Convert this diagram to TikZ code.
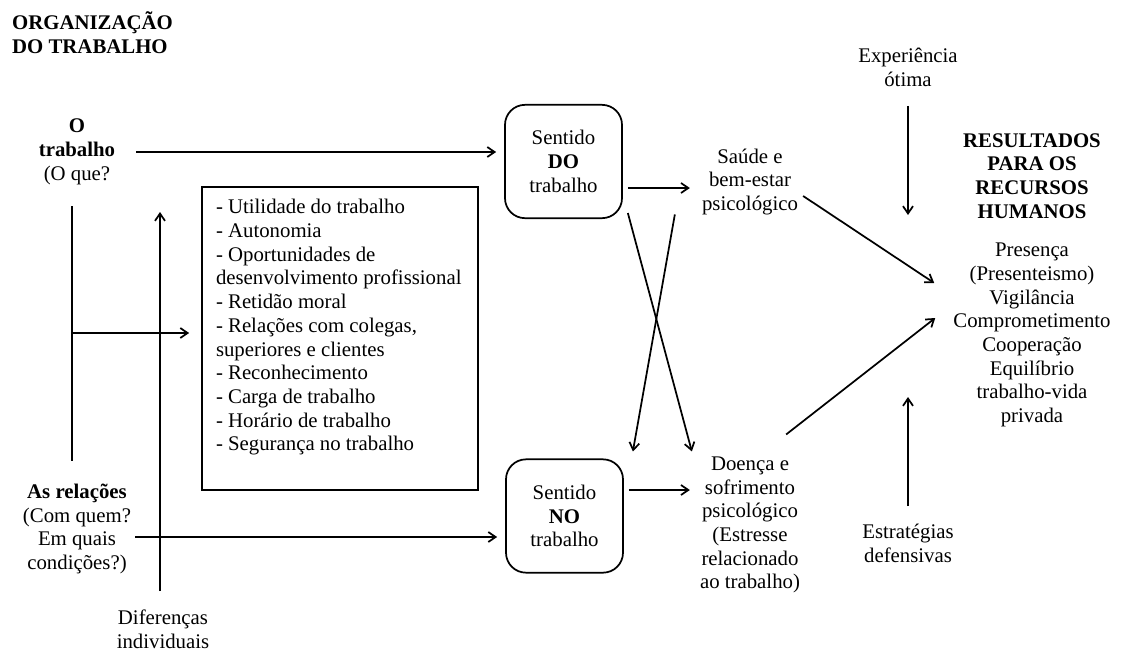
\documentclass[tikz,border=0pt]{standalone}
\usepackage{fontspec}
\setmainfont{Liberation Serif}
\usetikzlibrary{positioning, arrows.meta}

\begin{document}
\begin{tikzpicture}[->, >={Straight Barb[length=5.5pt,width=7.5pt]}, x=0.75pt, y=-0.75pt, line width=1.3pt, font=\fontsize{15.6}{17.8}\selectfont,
	rotulo/.style={align=center, inner sep=1pt},
	titulo/.style={rotulo, font=\fontsize{15.6}{17.8}\selectfont\bfseries},
	sentido/.style={draw, rounded corners=15pt, align=center, minimum width=87.75pt, minimum height=85pt},
	caixa/.style={draw, minimum width=207pt, minimum height=227pt}]
	\useasboundingbox (0,0) rectangle (1121,651);

	\node[titulo, align=left, anchor=west] (org) at (10,33) {ORGANIZAÇÃO\\DO TRABALHO};
	\node[rotulo] (trab) at (77,152) {\textbf{O}\\\textbf{trabalho}\\(O que?};
	\node[rotulo] (rel) at (77,529) {\textbf{As relações}\\(Com quem?\\Em quais\\condições?)};
	\node[rotulo] (dif) at (163,629) {Diferenças\\individuais};
	\node[caixa] (lista) at (340,338.5) {};
	\node[rotulo, align=left, inner sep=0pt] (itens) [below right=9pt and 10.5pt of lista.north west] {- Utilidade do trabalho\\- Autonomia\\- Oportunidades de\\desenvolvimento profissional\\- Retidão moral\\- Relações com colegas,\\superiores e clientes\\- Reconhecimento\\- Carga de trabalho\\- Horário de trabalho\\- Segurança no trabalho};
	\node[sentido] (sdo) at (563.5,161.5) {Sentido\\\textbf{DO}\\trabalho};
	\node[sentido] (sno) at (564.5,516) {Sentido\\\textbf{NO}\\trabalho};
	\node[rotulo] (saude) at (750,182) {Saúde e\\bem-estar\\psicológico};
	\node[rotulo] (doenca) at (750,525) {Doença e\\sofrimento\\psicológico\\(Estresse\\relacionado\\ao trabalho)};
	\node[rotulo] (exp) at (908,67.5) {Experiência\\ótima};
	\node[rotulo] (est) at (908,543.5) {Estratégias\\defensivas};
	\node[titulo] (rh) at (1032,176) {RESULTADOS\\PARA OS\\RECURSOS\\HUMANOS};
	\node[rotulo] (res) at (1032,335) {Presença\\(Presenteismo)\\Vigilância\\Comprometimento\\Cooperação\\Equilíbrio\\trabalho-vida\\privada};

	% pontos livres
	\coordinate (ramo) at (72,333);
	\coordinate (topo) at (160,212);
	\coordinate (alvo1) at (908,215);
	\coordinate (alvo2) at (908,397);
	\coordinate (partida) at ([shift={(2,8)}]rel.east);

	% lado esquerdo
	\draw[-] ([shift={(-5,19)}]trab.south) -- ([shift={(-5,-21)}]rel.north);
	\draw[shorten >=6pt] ([xshift=14pt]trab.east) -- (sdo.west |- trab.east);
	\draw[shorten >=9pt] (ramo) -- (lista.west |- ramo);
	\draw ([shift={(-3,-16.5)}]dif.north) -- (topo);
	\draw[shorten >=6pt] (partida) -- (sno.west |- partida);

	% centro
	\draw ([shift={(5,26.5)}]sdo.east) -- ([shift={(-10,6)}]saude.west);
	\draw ([shift={(5,-26)}]sno.east) -- ([shift={(-8,-35)}]doenca.west);
	\draw ([shift={(5,-6)}]sdo.south east) -- ([shift={(-6,-3)}]doenca.north west);
	\draw ([shift={(-25,-3)}]saude.south west) -- ([shift={(9,-7)}]sno.north east);

	% resultados
	\draw ([shift={(3,14)}]saude.east) -- ([shift={(-17,-52)}]res.west);
	\draw ([shift={(-16,-20)}]doenca.north east) -- ([shift={(-16,-17)}]res.west);
	\draw ([yshift=-12.75pt]exp.south) -- (alvo1);
	\draw ([yshift=12pt]est.north) -- (alvo2);
\end{tikzpicture}
\end{document}
